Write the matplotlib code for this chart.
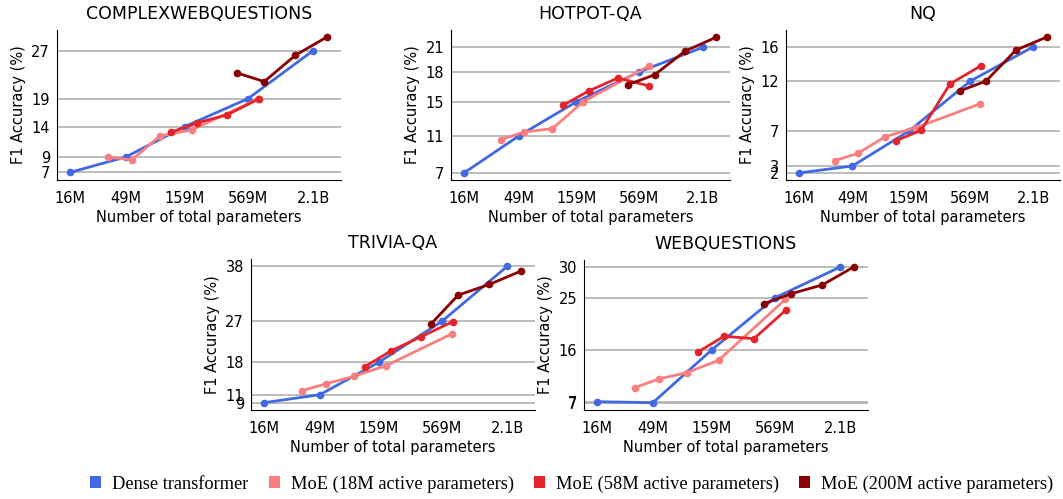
import numpy as np
import matplotlib.pyplot as plt
from matplotlib.patches import Patch

# total parameter counts (x positions)
dense_x = [16e6, 49e6, 159e6, 569e6, 2.1e9]
moe18_x = [34e6, 55e6, 97e6, 183e6, 700e6]
moe58_x = [121e6, 204e6, 372e6, 707e6]
moe200_x = [454e6, 787e6, 1.47e9, 2.78e9]
x_labels = ['16M', '49M', '159M', '569M', '2.1B']

titles = ['COMPLEXWEBQUESTIONS', 'HOTPOT-QA', 'NQ', 'TRIVIA-QA', 'WEBQUESTIONS']

# F1 accuracy per dataset
dense = [
    [6.6, 9.17, 14.21, 18.88, 26.88],
    [7.0, 11.11, 14.92, 18.22, 20.97],
    [2.0, 2.78, 6.67, 12.22, 16.03],
    [9.4, 11.1, 17.95, 26.7, 38.34],
    [7.15, 6.98, 15.91, 24.78, 29.98],
]
moe18 = [
    [9.17, 8.67, 12.66, 13.66, 18.85],
    [10.7, 11.56, 11.92, 14.92, 18.89],
    [3.37, 4.19, 6.04, 7.04, 9.7],
    [11.95, 13.38, 15.02, 17.21, 24.08],
    [9.52, 11.0, 12.07, 14.17, 24.5],
]
moe58 = [
    [13.28, 14.83, 16.16, 18.83],
    [14.52, 16.11, 17.56, 16.67],
    [5.59, 6.74, 11.89, 13.92],
    [17.06, 20.4, 23.38, 26.63],
    [15.57, 18.24, 17.83, 22.69],
]
moe200 = [
    [23.16, 21.71, 26.1, 29.16],
    [16.81, 17.92, 20.56, 22.11],
    [11.11, 12.22, 15.67, 17.11],
    [26.08, 32.25, 34.51, 37.36],
    [23.76, 25.46, 26.95, 30.03],
]
ylims = [(5.33, 30.3), (6.22, 22.9), (1.22, 17.9), (7.85, 39.9), (5.74, 31.17)]

colors = ['#4169e1', '#fa8080', '#e3242b', '#8b0000']
legend_labels = ['Dense transformer', 'MoE (18M active parameters)',
                 'MoE (58M active parameters)', 'MoE (200M active parameters)']

W, H = 1063, 499
boxes = [(57, 30, 341, 180), (451, 30, 730, 180), (786, 30, 1060, 180),
         (251, 259, 535, 410), (584, 260, 868, 410)]

fig = plt.figure(figsize=(W / 100, H / 100), dpi=100)

for k in range(5):
    l, t, r, b = boxes[k]
    ax = fig.add_axes([l / W, 1 - b / H, (r - l) / W, (b - t) / H])
    ax.set_xscale('log')
    series = [(dense_x, dense[k]), (moe18_x, moe18[k]), (moe58_x, moe58[k]), (moe200_x, moe200[k])]
    for (xs, ys), c in zip(series, colors):
        ax.plot(xs, ys, '-o', color=c, lw=2, ms=4.5, zorder=3)
    ax.set_xlim(12.3e6, 3.67e9)
    ax.set_ylim(*ylims[k])
    ax.set_xticks(dense_x)
    ax.set_xticklabels(x_labels)
    ax.xaxis.set_minor_locator(plt.NullLocator())
    ax.set_yticks(dense[k])
    ax.set_yticklabels([str(int(round(v))) for v in dense[k]])
    ax.yaxis.grid(True, color='#b0b0b0', lw=1.2)
    ax.set_axisbelow(True)
    for s in ['top', 'right']:
        ax.spines[s].set_visible(False)
    ax.tick_params(labelsize=10.5, length=0, pad=5)
    ax.tick_params(axis='x', pad=8)
    ax.set_xlabel('Number of total parameters', fontsize=10.5, labelpad=3)
    ax.set_ylabel('F1 Accuracy (%)', fontsize=10.5)
    ax.set_title(titles[k], fontsize=12.5, pad=8)

handles = [Patch(facecolor=c, edgecolor='none') for c in colors]
fig.legend(handles, legend_labels, loc='center', bbox_to_anchor=(0.538, 1 - 484 / H),
           ncol=4, frameon=False, prop={'family': 'Liberation Serif', 'size': 13.2},
           handlelength=0.6, handleheight=0.6, handletextpad=0.6, columnspacing=1.1)

fig.savefig('out.png', dpi=100)
